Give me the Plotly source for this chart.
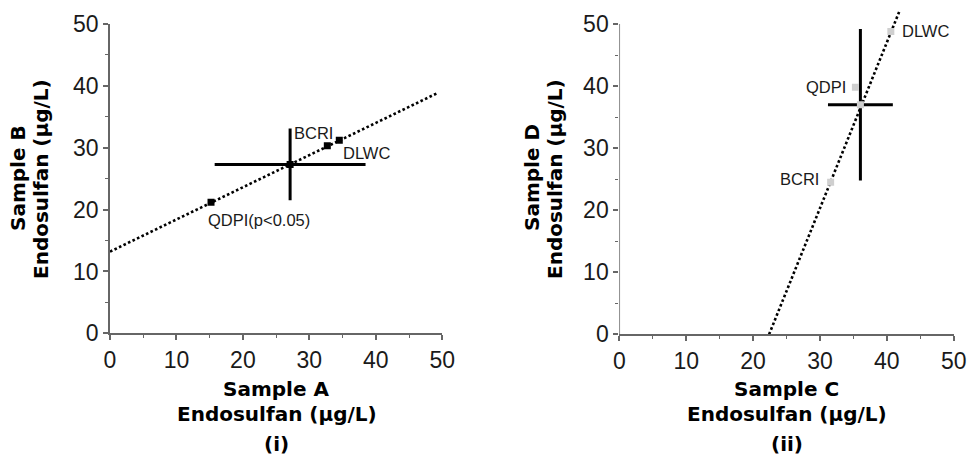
import plotly.graph_objects as go

W, H = 970, 459

# ---------------- Panel (i): Sample A vs Sample B ----------------
a_labels = ["QDPI(p<0.05)", "BCRI", "DLWC"]
a_x = [15.2, 32.7, 34.5]
a_y = [21.2, 30.3, 31.2]
a_mean_x = [27.1]
a_mean_y = [27.3]
a_err_x = [11.35]
a_err_y = [5.8]
a_line_x = [0, 49.4]
a_line_y = [13.2, 38.9]

# ---------------- Panel (ii): Sample C vs Sample D ----------------
c_labels = ["BCRI", "QDPI", "DLWC"]
c_x = [31.6, 35.3, 40.6]
c_y = [24.5, 39.8, 48.8]
c_mean_x = [36.05]
c_mean_y = [37.0]
c_err_x = [4.85]
c_err_y = [12.2]
c_line_x = [22.4, 41.9]
c_line_y = [0, 52.1]

tick_vals = [0, 10, 20, 30, 40, 50]
tick_text = ["0", "10", "20", "30", "40", "50"]

AXIS_GREY = "#666666"
TXT = "#1a1a1a"
FONT = "Liberation Sans, Arial, sans-serif"
TITLE_FONT = "DejaVu Sans, Liberation Sans, sans-serif"

fig = go.Figure()

# Panel (i)
fig.add_trace(go.Scatter(x=a_line_x, y=a_line_y, mode="lines",
                         line=dict(color="black", width=2.6, dash="2.6px,2.4px"),
                         xaxis="x", yaxis="y", showlegend=False, hoverinfo="skip"))
fig.add_trace(go.Scatter(x=a_mean_x, y=a_mean_y, mode="markers",
                         marker=dict(symbol="square", size=7, color="black"),
                         error_x=dict(type="data", array=a_err_x, color="black", thickness=3, width=0),
                         error_y=dict(type="data", array=a_err_y, color="black", thickness=3, width=0),
                         xaxis="x", yaxis="y", showlegend=False))
fig.add_trace(go.Scatter(x=a_x, y=a_y, mode="markers",
                         marker=dict(symbol="square", size=7, color="black"),
                         xaxis="x", yaxis="y", showlegend=False))

# Panel (ii)
fig.add_trace(go.Scatter(x=c_line_x, y=c_line_y, mode="lines",
                         line=dict(color="black", width=2.6, dash="2.6px,2.4px"),
                         xaxis="x2", yaxis="y2", showlegend=False, hoverinfo="skip"))
fig.add_trace(go.Scatter(x=c_mean_x, y=c_mean_y, mode="markers",
                         marker=dict(symbol="square", size=7, color="#cfcfcf"),
                         error_x=dict(type="data", array=c_err_x, color="black", thickness=3, width=0),
                         error_y=dict(type="data", array=c_err_y, color="black", thickness=3, width=0),
                         xaxis="x2", yaxis="y2", showlegend=False))
fig.add_trace(go.Scatter(x=c_x, y=c_y, mode="markers",
                         marker=dict(symbol="square", size=7, color="#cfcfcf"),
                         xaxis="x2", yaxis="y2", showlegend=False))


def px_x(p):
    return p / W


def px_y(p):
    return 1 - p / H


axis_common = dict(
    tickmode="array", tickvals=tick_vals, ticktext=tick_text,
    ticks="outside", ticklen=5, tickwidth=1.5, tickcolor=AXIS_GREY,
    minor=dict(dtick=5, ticks="outside", ticklen=3, tickwidth=1.2, tickcolor=AXIS_GREY),
    showgrid=False, zeroline=False, automargin=False,
    tickfont=dict(family=FONT, size=23, color=TXT),
    fixedrange=True,
)

fig.update_layout(
    width=W, height=H,
    margin=dict(l=0, r=0, t=0, b=0, pad=0, autoexpand=False),
    paper_bgcolor="white", plot_bgcolor="white",
    xaxis=dict(domain=[px_x(110), px_x(442.3)], range=[0, 50], anchor="y",
               showline=True, linecolor=AXIS_GREY, linewidth=1.5, **axis_common),
    yaxis=dict(domain=[px_y(333.3), px_y(24)], range=[0, 50], anchor="x",
               showline=True, linecolor=AXIS_GREY, linewidth=1.5, **axis_common),
    xaxis2=dict(domain=[px_x(619.3), px_x(953.7)], range=[0, 50], anchor="y2",
                showline=True, linecolor=AXIS_GREY, linewidth=1.5, **axis_common),
    yaxis2=dict(domain=[px_y(334.3), px_y(5.4)], range=[0, 53], anchor="x2",
                showline=False, **axis_common),
)

# y-axis line of panel (ii) only up to 50 (the fitted line runs past it)
fig.add_shape(type="line", xref="x2", yref="y2", x0=0, x1=0, y0=0, y1=50,
              line=dict(color=AXIS_GREY, width=1.5), layer="above")

# Point labels
lab_font = dict(family=FONT, size=16.5, color=TXT)
a_shift = [(-5, -18, "left"), (-35, 13, "left"), (2, -13, "left")]
for lab, x, y, (dx, dy, anc) in zip(a_labels, a_x, a_y, a_shift):
    fig.add_annotation(x=x, y=y, xref="x", yref="y", text=lab, showarrow=False,
                       xanchor=anc, yanchor="middle", xshift=dx, yshift=dy, font=lab_font)
c_shift = [(-10, 3, "right"), (-7, 0, "right"), (9, 0, "left")]
for lab, x, y, (dx, dy, anc) in zip(c_labels, c_x, c_y, c_shift):
    fig.add_annotation(x=x, y=y, xref="x2", yref="y2", text=lab, showarrow=False,
                       xanchor=anc, yanchor="middle", xshift=dx, yshift=dy, font=lab_font)

# Axis titles and panel captions
title_font = dict(family=TITLE_FONT, size=20, color="black")


def paper_text(text, xp, yp, angle=0):
    fig.add_annotation(x=px_x(xp), y=px_y(yp), xref="paper", yref="paper", text=text,
                       showarrow=False, xanchor="center", yanchor="middle",
                       textangle=angle, font=title_font)


paper_text("<b>Sample A</b>", 276, 389)
paper_text("<b>Endosulfan (µg/L)</b>", 277, 414)
paper_text("<b>(i)</b>", 276, 444)
paper_text("<b>Sample C</b>", 786.5, 389)
paper_text("<b>Endosulfan (µg/L)</b>", 787, 414)
paper_text("<b>(ii)</b>", 786.5, 444)

paper_text("<b>Sample B</b>", 18, 178, -90)
paper_text("<b>Endosulfan (µg/L)</b>", 41, 179, -90)
paper_text("<b>Sample D</b>", 532, 178, -90)
paper_text("<b>Endosulfan (µg/L)</b>", 555, 179, -90)

fig.write_html("out.html")
